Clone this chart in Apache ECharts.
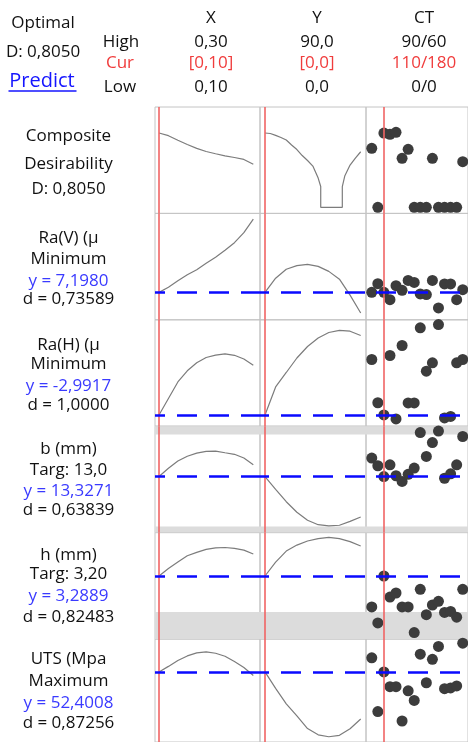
<!DOCTYPE html>
<html>
<head>
<meta charset="utf-8">
<script src="https://cdn.jsdelivr.net/npm/echarts@6/dist/echarts.min.js"></script>
<style>
  html, body { margin: 0; padding: 0; background: #fff; }
  #chart { width: 468px; height: 742px; }
</style>
</head>
<body>
<div id="chart"></div>
<script>
// factor settings
const xLevels = [0.10, 0.12, 0.14, 0.16, 0.18, 0.20, 0.22, 0.24, 0.26, 0.28, 0.30];
const yLevels = [0, 10, 20, 30, 40, 50, 60, 70, 80, 90];
const yLevelsComp = [0, 5, 10, 15, 20, 25, 30, 35, 40, 45, 50, 52.4, 52.4, 72.7, 72.7, 75, 80, 85, 90];
const ctIndex = [0, 1, 2, 3, 4, 5, 6, 7, 8, 9, 10, 11, 12, 13, 14, 15];

// composite desirability
const compX = [0.805, 0.776, 0.726, 0.680, 0.639, 0.605, 0.580, 0.558, 0.540, 0.519, 0.466];
const compY = [0.805, 0.800, 0.780, 0.756, 0.729, 0.675, 0.626, 0.561, 0.507, 0.447, 0.317, 0.225, 0, 0, 0.225, 0.339, 0.458, 0.534, 0.602];
const compCT = [0.639, 0, 0.805, 0.791, 0.813, 0.531, 0.628, 0, 0, 0, 0.531, 0, 0, 0, 0, 0.494];

// Ra(V)
const raVX = [7.198, 7.311, 7.453, 7.584, 7.693, 7.834, 7.965, 8.117, 8.281, 8.499, 8.797];
const raVY = [7.198, 7.507, 7.703, 7.780, 7.808, 7.764, 7.656, 7.486, 7.137, 6.749];
const raVCT = [7.198, 7.388, 7.198, 7.039, 7.344, 7.242, 7.459, 7.416, 7.163, 7.150, 7.459, 6.858, 7.381, 7.381, 7.039, 7.257];

// Ra(H)
const raHX = [-2.992, -0.932, 1.129, 2.528, 3.527, 4.188, 4.488, 4.650, 4.463, 3.996, 3.227];
const raHY = [-2.992, 0.505, 2.315, 4.126, 5.562, 6.624, 7.310, 7.585, 7.473, 6.935];
const raHCT = [3.939, -1.468, -2.992, 4.438, -3.491, 5.687, -1.493, -1.493, 7.897, 2.478, 3.527, 8.309, -3.367, -3.179, 3.527, 3.939];

// b (mm)
const bX = [13.327, 13.479, 13.611, 13.699, 13.757, 13.790, 13.794, 13.763, 13.735, 13.666, 13.543];
const bY = [13.327, 13.094, 12.866, 12.673, 12.527, 12.445, 12.423, 12.435, 12.505, 12.586];
const bCT = [13.666, 13.525, 13.327, 13.543, 13.342, 13.237, 13.369, 13.483, 14.133, 13.695, 13.949, 14.160, 13.296, 13.378, 13.543, 14.061];

// h (mm)
const hX = [3.289, 3.335, 3.375, 3.414, 3.435, 3.453, 3.463, 3.465, 3.460, 3.449, 3.425];
const hY = [3.289, 3.375, 3.443, 3.480, 3.505, 3.520, 3.528, 3.520, 3.501, 3.474];
const hCT = [3.098, 2.999, 3.289, 3.159, 3.184, 3.098, 3.098, 2.940, 3.207, 3.050, 3.110, 3.133, 3.064, 3.070, 3.035, 3.207];

// UTS (Mpa)
const utsX = [52.401, 53.826, 55.351, 56.526, 57.326, 57.576, 57.226, 56.451, 55.076, 53.526, 51.476];
const utsY = [52.401, 48.151, 44.151, 41.026, 37.776, 36.151, 35.651, 36.026, 37.726, 40.226];
const utsCT = [56.026, 42.151, 52.401, 48.576, 48.576, 39.726, 47.526, 45.026, 56.976, 49.601, 55.651, 58.976, 48.076, 48.276, 48.776, 59.826];

// predicted response at current setting
const curResp = [null, 7.1980, -2.9917, 13.3271, 3.2889, 52.4008];

// left labels
const rowLabels = [
  [["Composite", 136], ["Desirability", 164], ["D: 0,8050", 189]],
  [["Ra(V) (µ", 238], ["Minimum", 259], ["y = 7,1980", 281, "blue"], ["d = 0,73589", 299]],
  [["Ra(H) (µ", 345], ["Minimum", 364], ["y = -2,9917", 386, "blue"], ["d = 1,0000", 405]],
  [["b (mm)", 449], ["Targ: 13,0", 470], ["y = 13,3271", 491, "blue"], ["d = 0,63839", 510]],
  [["h (mm)", 555], ["Targ: 3,20", 574], ["y = 3,2889", 596, "blue"], ["d = 0,82483", 617]],
  [["UTS (Mpa", 659], ["Maximum", 681], ["y = 52,4008", 703, "blue"], ["d = 0,87256", 723]]
];

const BLACK = "#111", BLUE = "#3a3aff", RED = "#f03c3c";

const rows = [
  { min: -0.066, max: 1.087, x: compX, y: compY, yLev: yLevelsComp, ct: compCT },
  { min: 6.6, max: 8.92, x: raVX, y: raVY, ct: raVCT },
  { min: -4.4, max: 8.9, x: raHX, y: raHY, ct: raHCT },
  { min: 12.3, max: 14.25, x: bX, y: bY, ct: bCT, bands: [[14.1, 14.25], [12.3, 12.41]] },
  { min: 2.9, max: 3.557, x: hX, y: hY, ct: hCT, bands: [[2.9, 3.067]] },
  { min: 34.3, max: 60.9, x: utsX, y: utsY, ct: utsCT }
];

const cols = [
  { left: 155, width: 105, min: 0.0915, max: 0.3142, cur: 0.10, dash: 10 },
  { left: 260, width: 106, min: -4.7, max: 94.98, cur: 0, dash: 11 },
  { left: 366, width: 106, min: -0.952, max: 15.87, cur: 2, dash: 22 }
];

const rowTop = 107, rowH = 106.4;

const grid = [], xAxis = [], yAxis = [], series = [];

rows.forEach((r, i) => {
  cols.forEach((c, j) => {
    const gi = i * 3 + j;
    grid.push({
      left: c.left, top: rowTop + i * rowH, width: c.width, height: rowH,
      show: true, borderColor: "#c4c4c4", borderWidth: 1
    });
    xAxis.push({ type: "value", gridIndex: gi, min: c.min, max: c.max, show: false });
    yAxis.push({ type: "value", gridIndex: gi, min: r.min, max: r.max, show: false });

    let data;
    if (j === 0) data = xLevels.map((x, k) => [x, r.x[k]]);
    else if (j === 1) data = (r.yLev || yLevels).map((y, k) => [y, r.y[k]]);
    else data = ctIndex.map((x, k) => [x, r.ct[k]]);

    const lines = [{ xAxis: c.cur, lineStyle: { color: "#f06464", width: 1.6, type: "solid" } }];
    if (curResp[i] !== null) {
      lines.push({ yAxis: curResp[i], lineStyle: { color: "#0a0aff", width: 2.5, type: [20, 12], dashOffset: c.dash } });
    }

    const s = {
      type: j === 2 ? "scatter" : "line",
      xAxisIndex: gi, yAxisIndex: gi,
      data,
      silent: true,
      markLine: { silent: true, symbol: "none", label: { show: false }, animation: false, data: lines },
    };
    if (j === 2) {
      s.symbolSize = 11;
      s.itemStyle = { color: "#3c3c3c", opacity: 1 };
    } else {
      s.showSymbol = false;
      s.lineStyle = { color: "#7c7c7c", width: 1.2 };
    }
    if (r.bands) {
      s.markArea = {
        silent: true,
        itemStyle: { color: "#dcdcdc" },
        data: r.bands.map((b) => [{ yAxis: b[0] }, { yAxis: b[1] }])
      };
    }
    series.push(s);
  });
});

// header + left texts
const graphic = [];
function txt(text, x, y, color, size) {
  graphic.push({
    type: "text", x, y, silent: true,
    style: {
      text, fill: color || BLACK,
      font: (size || 17) + 'px "Open Sans", sans-serif',
      textAlign: "center", align: "center",
      textVerticalAlign: "middle", verticalAlign: "middle"
    }
  });
}
txt("Optimal", 43, 23);
txt("D: 0,8050", 43, 52);
txt("Predict", 42, 81, "#1515ff", 20);
graphic.push({ type: "line", silent: true, shape: { x1: 8.5, y1: 91, x2: 76.5, y2: 91 }, style: { stroke: "#1515ff", lineWidth: 1.3 } });
txt("High", 121, 42);
txt("Cur", 120, 63, RED);
txt("Low", 120, 87);
const colHeads = [["X", "0,30", "[0,10]", "0,10", 211], ["Y", "90,0", "[0,0]", "0,0", 317], ["CT", "90/60", "110/180", "0/0", 424]];
colHeads.forEach((h) => {
  txt(h[0], h[4], 18);
  txt(h[1], h[4], 42);
  txt(h[2], h[4], 63, RED);
  txt(h[3], h[4], 87);
});
rowLabels.forEach((lines) => {
  lines.forEach((l) => txt(l[0], 68.5, l[1], l[2] === "blue" ? BLUE : BLACK));
});

const chart = echarts.init(document.getElementById("chart"));
chart.setOption({
  animation: false,
  backgroundColor: "#fff",
  grid, xAxis, yAxis, series, graphic
});
</script>
</body>
</html>
